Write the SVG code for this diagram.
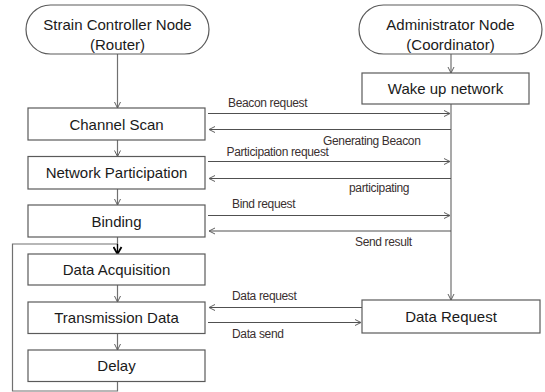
<svg xmlns="http://www.w3.org/2000/svg" width="545" height="392" viewBox="0 0 545 392">
<style>
.box{fill:#fff;stroke:#5a5a5a;stroke-width:1.2}
.lbl{font-family:"Liberation Sans",Arial,sans-serif;font-size:15px;fill:#1a1a1a;text-anchor:middle}
.msg{font-family:"Liberation Sans",Arial,sans-serif;font-size:12px;fill:#3a3030;letter-spacing:-0.35px}
.ln{fill:none;stroke:#707070;stroke-width:1.2}
.mln{fill:none;stroke:#505050;stroke-width:1.2}
</style>
<defs>
<marker id="ah" markerWidth="8" markerHeight="8" refX="7" refY="4" orient="auto" markerUnits="userSpaceOnUse">
<path d="M1,1 L7,4 L1,7" fill="none" stroke="#606060" stroke-width="1"/>
</marker>
<marker id="ahb" markerWidth="10" markerHeight="10" refX="8" refY="5" orient="auto" markerUnits="userSpaceOnUse">
<path d="M1,1 L8,5 L1,9" fill="none" stroke="#000" stroke-width="1.8"/>
</marker>
</defs>
<g id="connectors">
<path class="ln" d="M117.5,54 V108" marker-end="url(#ah)"/>
<path class="ln" d="M117.5,140 V156.5" marker-end="url(#ah)"/>
<path class="ln" d="M117.5,189 V205" marker-end="url(#ah)"/>
<path class="ln" d="M117.5,237 V244"/>
<path class="ln" d="M117.5,381.5 V391 H12.5 V244 H117.5"/>
<path fill="none" stroke="#000" stroke-width="1.4" d="M117.5,244 V254" marker-end="url(#ahb)"/>
<path class="ln" d="M117.5,285 V302" marker-end="url(#ah)"/>
<path class="ln" d="M117.5,333.5 V350" marker-end="url(#ah)"/>
<path class="ln" d="M451,54 V73" marker-end="url(#ah)"/>
<path class="ln" d="M451,104 V300" marker-end="url(#ah)"/>
<path class="mln" d="M208,113.5 H450" marker-end="url(#ah)"/>
<path class="mln" d="M451,129.5 H209" marker-end="url(#ah)"/>
<path class="mln" d="M208,161.5 H450" marker-end="url(#ah)"/>
<path class="mln" d="M451,178.5 H209" marker-end="url(#ah)"/>
<path class="mln" d="M208,215.5 H450" marker-end="url(#ah)"/>
<path class="mln" d="M451,231 H209" marker-end="url(#ah)"/>
<path class="mln" d="M362,307.5 H209" marker-end="url(#ah)"/>
<path class="mln" d="M208,322.5 H361" marker-end="url(#ah)"/>
<text class="msg" x="228" y="107">Beacon request</text>
<text class="msg" x="323" y="145">Generating Beacon</text>
<text class="msg" x="226.5" y="156">Participation request</text>
<text class="msg" x="349" y="192">participating</text>
<text class="msg" x="232" y="208">Bind request</text>
<text class="msg" x="355" y="246">Send result</text>
<text class="msg" x="232" y="300">Data request</text>
<text class="msg" x="232" y="338">Data send</text>
</g>
<g id="strain">
<rect class="box" x="26" y="5" width="183" height="49" rx="24.5"/>
<text class="lbl" x="117.5" y="29.5">Strain Controller Node</text>
<text class="lbl" x="117.5" y="49.5">(Router)</text>
</g>
<g id="admin">
<rect class="box" x="359" y="5" width="183" height="49" rx="24.5"/>
<text class="lbl" x="450.5" y="29.5">Administrator Node</text>
<text class="lbl" x="450.5" y="49.5">(Coordinator)</text>
</g>
<g id="wake">
<rect class="box" x="362" y="73" width="167" height="31"/>
<text class="lbl" x="445.5" y="94">Wake up network</text>
</g>
<g id="channel">
<rect class="box" x="28" y="108" width="177" height="32"/>
<text class="lbl" x="116.5" y="129.5">Channel Scan</text>
</g>
<g id="netpart">
<rect class="box" x="28" y="156.5" width="177" height="32.5"/>
<text class="lbl" x="116.5" y="178">Network Participation</text>
</g>
<g id="binding">
<rect class="box" x="28" y="205" width="177" height="32"/>
<text class="lbl" x="116.5" y="226.5">Binding</text>
</g>
<g id="acq">
<rect class="box" x="28" y="254" width="177" height="31"/>
<text class="lbl" x="116.5" y="275">Data Acquisition</text>
</g>
<g id="trans">
<rect class="box" x="28" y="302" width="177" height="31.5"/>
<text class="lbl" x="116.5" y="323">Transmission Data</text>
</g>
<g id="delay">
<rect class="box" x="28" y="350" width="177" height="31.5"/>
<text class="lbl" x="116.5" y="371">Delay</text>
</g>
<g id="datareq">
<rect class="box" x="362" y="300" width="178" height="33"/>
<text class="lbl" x="451" y="321.5">Data Request</text>
</g>
</svg>
